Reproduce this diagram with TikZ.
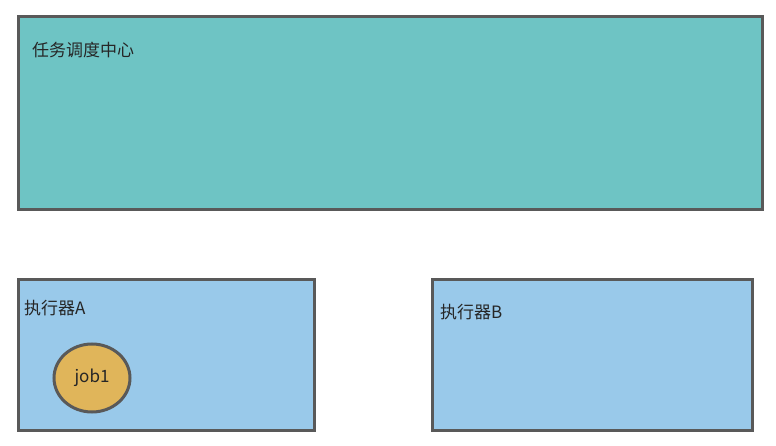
\documentclass[tikz,border=0pt]{standalone}
\usepackage{fontspec}
\setmainfont{Noto Sans CJK SC}
\usetikzlibrary{shapes.geometric}
\begin{document}
\begin{tikzpicture}[x=1pt,y=-1pt,
  box/.style={draw=black!65,line width=3pt},
  lbl/.style={anchor=west,font=\fontsize{17}{20}\selectfont,text=black!85,inner sep=0pt}]
\useasboundingbox (0,0) rectangle (776,446);
\definecolor{teal1}{HTML}{6EC4C4}
\definecolor{blue1}{HTML}{99C9EA}
\definecolor{gold1}{HTML}{E0B55A}
\draw[box,fill=teal1] (18,17) rectangle (762,210);
\node[lbl] (t) at (32,50) {任务调度中心};
\draw[box,fill=blue1] (18,280) rectangle (314,430);
\node[lbl] (a) at (24,308) {执行器A};
\draw[box,fill=blue1] (432,280) rectangle (752,430);
\node[lbl] (b) at (440,312) {执行器B};
\node[draw=black!65,line width=3pt,fill=gold1,ellipse,minimum width=76pt,minimum height=68pt,inner sep=0pt,font=\fontsize{17}{20}\selectfont,text=black!85] (j) at (92,378) {job1};
\end{tikzpicture}
\end{document}
